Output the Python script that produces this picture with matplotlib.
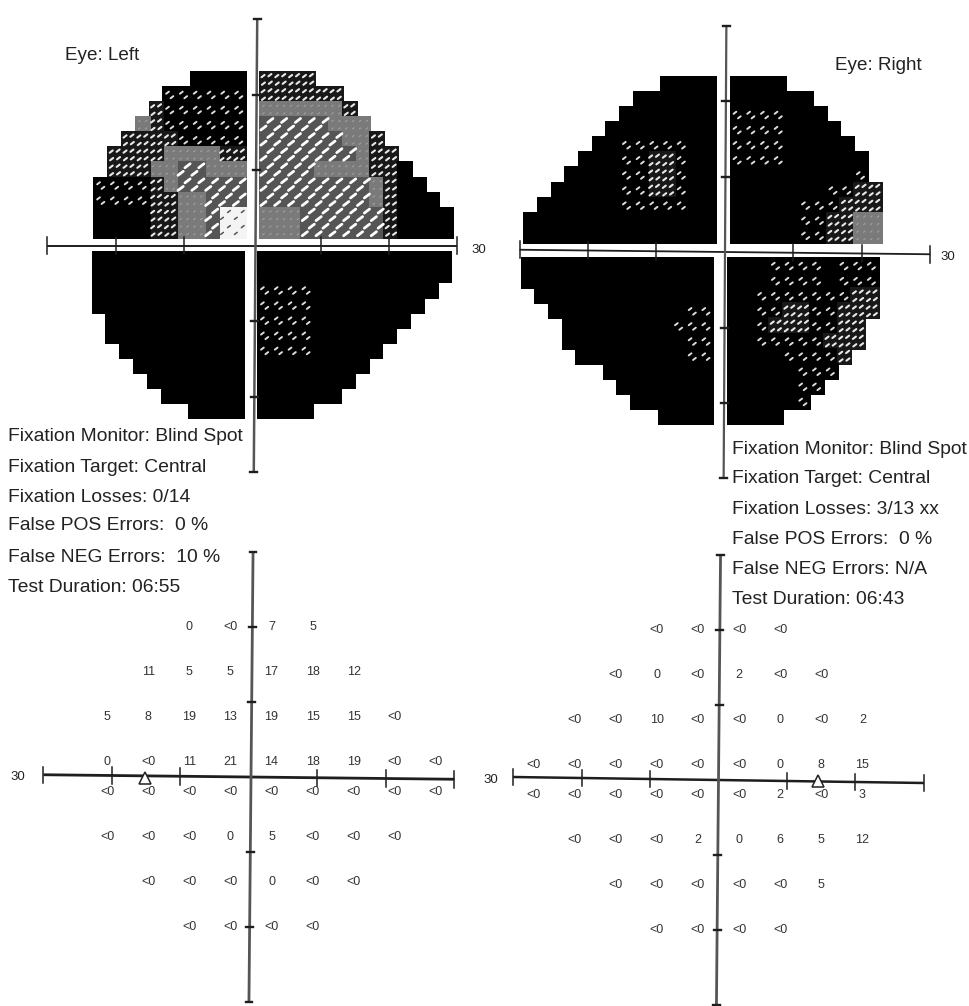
import matplotlib
matplotlib.use("Agg")
import matplotlib.pyplot as plt
from matplotlib.collections import LineCollection, PatchCollection
from matplotlib.patches import Rectangle

W, H = 970, 1006
plt.rcParams['font.family'] = ['Liberation Sans', 'DejaVu Sans']

# Grey-scale levels per 2-degree cell; index 0 of each row is next to the vertical axis.
# Rows run top to bottom. 0 black, 1 sparse, 2 dense dark, 3 gray + white dashes, 4 gray, 5 pale
LEFT_UL = ["0000", "111111", "1111112", "11111124", "111112222", "2244442222",
           "4443344222", "33333421111", "33344221111", "55344220000", "55344220000"]
LEFT_UR = ["2222", "222222", "4444442", "33333444", "333333442", "3333333422",
           "33334444220", "333333334200", "3333333342000", "44433333320000", "44433333320000"]
LEFT_LL = ["0" * n for n in [11, 11, 11, 11, 10, 10, 9, 8, 7, 6, 4]]
LEFT_LR = ["0" * 14, "0" * 14, "1111" + "0" * 9, "1111" + "0" * 8, "1111" + "0" * 7,
           "1111" + "0" * 6, "1111" + "0" * 5, "0" * 8, "0" * 7, "0" * 6, "0" * 4]

RIGHT_UL = ["0000", "000000", "0000000", "00000000", "001111100", "0012211000",
            "00122110000", "001221100000", "0011111000000", "0" * 14, "0" * 14]
RIGHT_UR = ["0000", "000000", "1111000", "11110000", "111100000", "1111000000",
            "0000000001", "00000001122", "00000111222", "00000112244", "00000112244"]
RIGHT_LL = ["0" * 14, "0" * 14, "0" * 13, "110" + "0" * 9, "111" + "0" * 8, "110" + "0" * 8,
            "110" + "0" * 7, "0" * 8, "0" * 7, "0" * 6, "0" * 4]
RIGHT_LR = ["00011110111", "00011110111", "00111111122", "00112211222", "0012221122",
            "0011111222", "000011112", "00000111", "0000011", "000001", "0000"]

# Numeric threshold rows: (y degrees, first x degrees, labels every 6 degrees)
ROW_Y = [20, 14, 8, 2, -2, -8, -14, -20]
LEFT_X0 = [-9, -15, -21, -21, -21, -21, -15, -9]
LEFT_VALUES = [["0", "<0", "7", "5"],
               ["11", "5", "5", "17", "18", "12"],
               ["5", "8", "19", "13", "19", "15", "15", "<0"],
               ["0", "<0", "11", "21", "14", "18", "19", "<0", "<0"],
               ["<0", "<0", "<0", "<0", "<0", "<0", "<0", "<0", "<0"],
               ["<0", "<0", "<0", "0", "5", "<0", "<0", "<0"],
               ["<0", "<0", "<0", "0", "<0", "<0"],
               ["<0", "<0", "<0", "<0"]]
RIGHT_X0 = [-9, -15, -21, -27, -27, -21, -15, -9]
RIGHT_VALUES = [["<0", "<0", "<0", "<0"],
                ["<0", "0", "<0", "2", "<0", "<0"],
                ["<0", "<0", "10", "<0", "<0", "0", "<0", "2"],
                ["<0", "<0", "<0", "<0", "<0", "<0", "0", "8", "15"],
                ["<0", "<0", "<0", "<0", "<0", "<0", "2", "<0", "3"],
                ["<0", "<0", "<0", "2", "0", "6", "5", "12"],
                ["<0", "<0", "<0", "<0", "<0", "5"],
                ["<0", "<0", "<0", "<0"]]

AXIS_TICKS = [-30, -20, -10, 10, 20, 30]
BLIND_SPOT_LEFT = -15.5
BLIND_SPOT_RIGHT = 14.5

LEFT_INFO = ["Fixation Monitor: Blind Spot", "Fixation Target: Central", "Fixation Losses: 0/14",
             "False POS Errors:  0 %", "False NEG Errors:  10 %", "Test Duration: 06:55"]
RIGHT_INFO = ["Fixation Monitor: Blind Spot", "Fixation Target: Central", "Fixation Losses: 3/13 xx",
              "False POS Errors:  0 %", "False NEG Errors: N/A", "Test Duration: 06:43"]

BG = {0: "#000000", 1: "#000000", 2: "#181818", 3: "#555555", 4: "#7a7a7a", 5: "#f4f4f4"}
# level: (colour, linewidth, half length deg, [(fx, fy), ...])
DASH = {1: ("#dddddd", 1.4, 0.2, [(0.3, 0.62), (0.62, 0.32)]),
        2: ("#e8e8e8", 1.5, 0.22, [(0.22, 0.72), (0.72, 0.78), (0.25, 0.22), (0.75, 0.28)]),
        3: ("#ffffff", 2.0, 0.38, [(0.25, 0.28), (0.75, 0.78)]),
        4: ("#a0a0a0", 0.8, 0.12, [(0.25, 0.25), (0.75, 0.25), (0.25, 0.75), (0.75, 0.75)]),
        5: ("#555555", 1.1, 0.2, [(0.25, 0.3), (0.75, 0.75)])}


def panel(cx, cy, sx, sy):
    rx, ry = 36 * sx, 36 * sy
    ax = fig.add_axes([(cx - rx) / W, 1 - (cy + ry) / H, 2 * rx / W, 2 * ry / H])
    ax.set_xlim(-36, 36)
    ax.set_ylim(-36, 36)
    ax.axis("off")
    ax.patch.set_alpha(0)
    return ax


def draw_quadrant(ax, rows, x_inner, y_inner, xsign, upper):
    rects, colors = [], []
    segs = {k: [] for k in DASH}
    n = len(rows)
    for r, row in enumerate(rows):
        y = y_inner + (n - 1 - r) * 2.0 if upper else y_inner - (r + 1) * 2.0
        for c, ch in enumerate(row):
            lev = int(ch)
            x = x_inner + c * 2.0 if xsign > 0 else x_inner - (c + 1) * 2.0
            rects.append(Rectangle((x, y), 2.0, 2.0))
            colors.append(BG[lev])
            if lev in DASH:
                _, _, hl, offs = DASH[lev]
                for fx, fy in offs:
                    px, py = x + fx * 2, y + fy * 2
                    segs[lev].append([(px - hl, py - hl * 0.7), (px + hl, py + hl * 0.7)])
    ax.add_collection(PatchCollection(rects, facecolors=colors, edgecolors=colors,
                                      linewidths=0.3, antialiased=False, zorder=2))
    for lev, s in segs.items():
        if s:
            col, lw, _, _ = DASH[lev]
            ax.add_collection(LineCollection(s, colors=col, linewidths=lw, capstyle="round", zorder=3))


def draw_axes(ax, tilt_x, tilt_y, hlw, vlw, hshift=0.0, hscale=1.0, vcolor="#555555"):
    color = "#1e1e1e"
    x0, x1 = hshift - 30 * hscale, hshift + 30 * hscale
    ax.plot([x0, x1], [tilt_y, -tilt_y], color=color, lw=hlw, zorder=4, solid_capstyle="butt")
    ax.plot([tilt_x, -tilt_x], [30, -30], color=vcolor, lw=vlw, zorder=4, solid_capstyle="butt")
    for t in AXIS_TICKS:
        ty = -tilt_y * t / 30
        tx = tilt_x * t / 30
        xt = hshift + t * hscale
        ax.plot([xt, xt], [ty - 1.1, ty + 1.1], color=color, lw=1.1, zorder=4)
        ax.plot([tx - 0.5, tx + 0.5], [t, t], color=color, lw=1.7, zorder=4)


def draw_numbers(ax, x0s, values):
    for y, x0, vals in zip(ROW_Y, x0s, values):
        for i, v in enumerate(vals):
            ax.text(x0 + 6 * i, y, v, ha="center", va="center", fontsize=9, color="#333333", zorder=5)


fig = plt.figure(figsize=(W / 100, H / 100), dpi=100, facecolor="white")

# Left eye map
a = panel(255.5, 245.5, 6.9, 7.55)
draw_quadrant(a, LEFT_UL, -1.35, 1.0, -1, True)
draw_quadrant(a, LEFT_UR, 0.65, 1.0, 1, True)
draw_quadrant(a, LEFT_LL, -1.6, -0.9, -1, False)
draw_quadrant(a, LEFT_LR, 0.4, -0.9, 1, False)
draw_axes(a, 0.25, 0.0, 1.4, 1.8, hshift=-0.45, hscale=0.99)
a.text(31.3, -0.6, "30", ha="left", va="center", fontsize=9.5, color="#222222")

# Right eye map
a = panel(725, 252, 6.85, 7.55)
draw_quadrant(a, RIGHT_UL, -1.3, 1.2, -1, True)
draw_quadrant(a, RIGHT_UR, 0.85, 1.2, 1, True)
draw_quadrant(a, RIGHT_LL, -1.7, -0.8, -1, False)
draw_quadrant(a, RIGHT_LR, 0.45, -0.8, 1, False)
draw_axes(a, 0.2, 0.3, 1.3, 1.6)
a.text(31.5, -0.6, "30", ha="left", va="center", fontsize=9.5, color="#222222")

# Left thresholds
a = panel(251, 777, 6.85, 7.5)
draw_axes(a, 0.3, 0.3, 2.0, 2.0, hshift=-0.3, hscale=1.0)
draw_numbers(a, LEFT_X0, LEFT_VALUES)
a.plot([BLIND_SPOT_LEFT], [-0.1], marker="^", ms=9, mfc="white", mec="#222222", mew=1.1, zorder=6)
a.text(-33, 0, "30", ha="right", va="center", fontsize=9.5, color="#222222")

# Right thresholds
a = panel(718.5, 780, 6.85, 7.5)
draw_axes(a, 0.3, 0.4, 1.8, 2.0)
draw_numbers(a, RIGHT_X0, RIGHT_VALUES)
a.plot([BLIND_SPOT_RIGHT], [-0.2], marker="^", ms=9, mfc="white", mec="#222222", mew=1.1, zorder=6)
a.text(-32.2, 0, "30", ha="right", va="center", fontsize=9.5, color="#222222")

# Text blocks
fig.text(65 / W, 1 - 55 / H, "Eye: Left", fontsize=13.6, va="center", color="#222222")
fig.text(835 / W, 1 - 65 / H, "Eye: Right", fontsize=13.6, va="center", color="#222222")
for txt, y in zip(LEFT_INFO, [437, 467, 497, 526, 557, 588]):
    fig.text(8 / W, 1 - y / H, txt, fontsize=13.9, va="center", color="#222222")
for txt, y in zip(RIGHT_INFO, [449, 479, 509, 539, 570, 600]):
    fig.text(732 / W, 1 - y / H, txt, fontsize=13.9, va="center", color="#222222")

fig.savefig("out.png", dpi=100, facecolor="white")
